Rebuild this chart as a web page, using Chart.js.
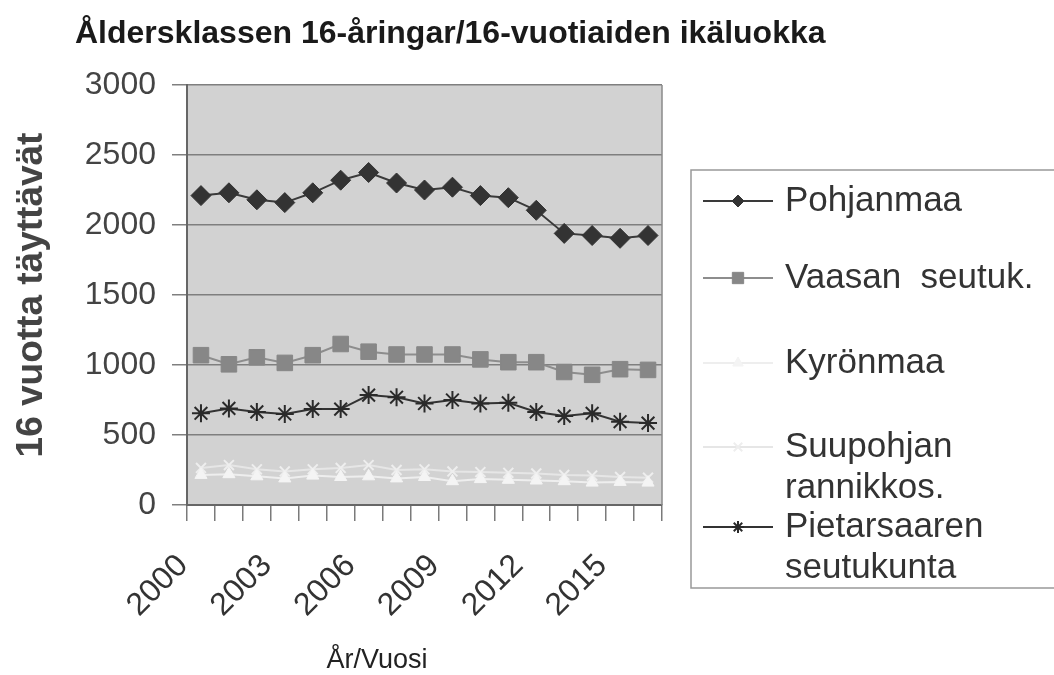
<!DOCTYPE html>
<html>
<head>
<meta charset="utf-8">
<script src="https://cdn.jsdelivr.net/npm/chart.js@4/dist/chart.umd.min.js"></script>
<style>
  html, body { margin: 0; padding: 0; background: #fff; }
  #wrap { width: 1054px; height: 675px; position: relative; }
</style>
</head>
<body>
<div id="wrap"><canvas id="chart" width="1054" height="675"></canvas></div>
<script>
// Data
const years = ["2000", "2001", "2002", "2003", "2004", "2005", "2006", "2007", "2008",
  "2009", "2010", "2011", "2012", "2013", "2014", "2015", "2016"];
const pohjanmaa = [2210, 2230, 2180, 2160, 2230, 2320, 2375, 2300, 2250, 2270, 2210, 2195, 2105, 1940, 1925, 1905, 1925];
const vaasanSeutuk = [1070, 1005, 1055, 1015, 1070, 1150, 1095, 1075, 1075, 1075, 1040, 1020, 1020, 950, 930, 970, 965];
const kyronmaa = [215, 220, 205, 190, 210, 200, 205, 190, 200, 170, 185, 180, 175, 170, 160, 165, 160];
const suupohjan = [265, 285, 255, 240, 255, 265, 285, 250, 255, 240, 235, 230, 225, 215, 210, 200, 195];
const pietarsaari = [655, 690, 665, 650, 685, 685, 785, 770, 725, 750, 725, 730, 665, 635, 655, 595, 585];

const yTicks = [0, 500, 1000, 1500, 2000, 2500, 3000];
const legendLabels = [["Pohjanmaa"], ["Vaasan  seutuk."], ["Kyrönmaa"], ["Suupohjan", "rannikkos."], ["Pietarsaaren", "seutukunta"]];

const FONT = "'Liberation Sans', Arial, sans-serif";

// Grey plot background + frame line on the right
const plotBackground = {
  id: "plotBackground",
  beforeDraw(chart) {
    const { ctx, chartArea: a } = chart;
    ctx.save();
    ctx.fillStyle = "#ffffff";
    ctx.fillRect(0, 0, chart.width, chart.height);
    ctx.fillStyle = "#d2d2d2";
    ctx.fillRect(a.left, a.top, a.right - a.left, a.bottom - a.top);
    ctx.restore();
  },
  beforeDatasetsDraw(chart) {
    const { ctx, chartArea: a } = chart;
    ctx.save();
    ctx.strokeStyle = "#8a8a8a";
    ctx.lineWidth = 1.5;
    ctx.beginPath();
    ctx.moveTo(a.right, a.top);
    ctx.lineTo(a.right, a.bottom);
    ctx.stroke();
    ctx.restore();
  },
};

// Title, x axis caption and the boxed legend on the right
const extras = {
  id: "extras",
  afterDraw(chart) {
    const { ctx } = chart;
    ctx.save();
    ctx.fillStyle = "#1a1a1a";
    ctx.font = "bold 32px " + FONT;
    ctx.textBaseline = "alphabetic";
    ctx.textAlign = "left";
    ctx.fillText("Åldersklassen 16-åringar/16-vuotiaiden ikäluokka", 75, 43);

    ctx.fillStyle = "#222";
    ctx.font = "27px " + FONT;
    ctx.textAlign = "center";
    ctx.fillText("År/Vuosi", 377, 668);

    // legend box
    ctx.strokeStyle = "#999";
    ctx.lineWidth = 1.5;
    ctx.strokeRect(691, 170, 370, 418);

    const rows = [201, 278, 363, 447, 527];
    chart.data.datasets.forEach((ds, i) => {
      const y = rows[i];
      ctx.strokeStyle = ds.borderColor;
      ctx.lineWidth = 2;
      ctx.beginPath();
      ctx.moveTo(703, y);
      ctx.lineTo(773, y);
      ctx.stroke();
      ctx.fillStyle = ds.pointBackgroundColor;
      ctx.strokeStyle = ds.pointBorderColor;
      ctx.lineWidth = ds.pointBorderWidth;
      Chart.helpers.drawPoint(ctx, {
        pointStyle: ds.pointStyle,
        radius: ds.pointStyle === "rect" ? 8 : 6,
        rotation: 0,
        borderWidth: ds.pointBorderWidth,
      }, 738, y);
      ctx.fillStyle = "#333";
      ctx.font = "35px " + FONT;
      ctx.textAlign = "left";
      ctx.textBaseline = "middle";
      legendLabels[i].forEach((line, k) => ctx.fillText(line, 785, y + k * 41));
    });
    ctx.restore();
  },
};

function series(label, data, color, pointStyle, radius, pointColor, borderWidth) {
  return {
    label,
    data,
    borderColor: color,
    borderWidth: 2,
    pointStyle,
    pointRadius: radius,
    pointHoverRadius: radius,
    pointBackgroundColor: pointColor,
    pointBorderColor: pointColor,
    pointBorderWidth: borderWidth,
    tension: 0,
  };
}

new Chart(document.getElementById("chart"), {
  type: "line",
  data: {
    labels: years,
    datasets: [
      series("Pohjanmaa", pohjanmaa, "#3a3a3a", "rectRot", 10, "#333333", 1),
      series("Vaasan seutuk.", vaasanSeutuk, "#8d8d8d", "rect", 11, "#878787", 1),
      series("Kyrönmaa", kyronmaa, "#eeeeee", "triangle", 7, "#f4f4f4", 1),
      series("Suupohjan rannikkos.", suupohjan, "#e6e6e6", "crossRot", 7, "#eeeeee", 2),
      series("Pietarsaaren seutukunta", pietarsaari, "#333333", "star", 9, "#2a2a2a", 2),
    ],
  },
  options: {
    responsive: false,
    animation: false,
    layout: { padding: { top: 85, right: 392, left: 0, bottom: 0 } },
    plugins: {
      legend: { display: false },
      tooltip: { enabled: false },
      title: { display: false },
    },
    scales: {
      x: {
        offset: true,
        afterFit(scale) { scale.height = 170; },
        grid: { display: true, drawOnChartArea: false, offset: true, tickLength: 16, color: "#7a7a7a", lineWidth: 1.5 },
        border: { color: "#666", width: 2 },
        ticks: {
          autoSkip: false,
          minRotation: 45,
          maxRotation: 45,
          padding: 26,
          labelOffset: -18,
          color: "#333",
          font: { family: FONT, size: 32 },
          callback(value, index) { return index % 3 === 0 ? years[index] : ""; },
        },
      },
      y: {
        min: 0,
        max: 3000,
        afterFit(scale) { scale.width = 187; },
        afterBuildTicks(scale) { scale.ticks = yTicks.map((v) => ({ value: v })); },
        grid: { color: "#7f7f7f", lineWidth: 1.5, tickLength: 15 },
        border: { color: "#666", width: 2 },
        ticks: {
          padding: 16,
          color: "#444",
          font: { family: FONT, size: 32 },
          callback(value) { return String(value); },
        },
        title: {
          display: true,
          text: "16 vuotta täyttävät",
          color: "#444",
          font: { family: FONT, size: 37, weight: "bold" },
          padding: { top: 10, bottom: 0 },
        },
      },
    },
  },
  plugins: [plotBackground, extras],
});
</script>
</body>
</html>
